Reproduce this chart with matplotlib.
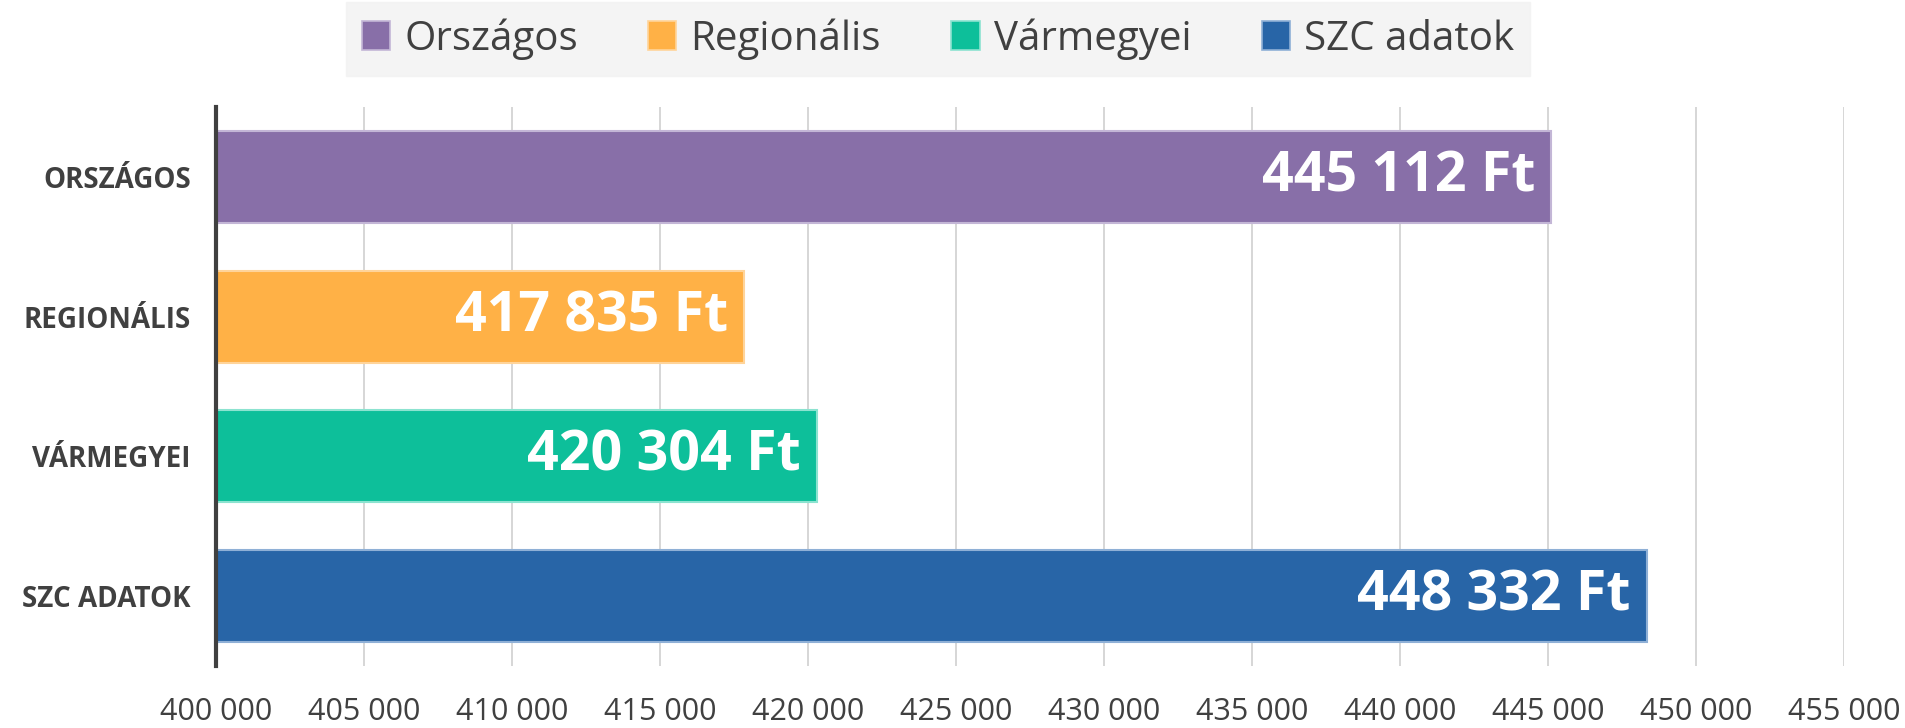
import matplotlib
matplotlib.use("Agg")
import matplotlib.pyplot as plt
from matplotlib.patches import Patch

categories = ["ORSZÁGOS", "REGIONÁLIS", "VÁRMEGYEI", "SZC ADATOK"]
legend_labels = ["Országos", "Regionális", "Vármegyei", "SZC adatok"]
values = [445112, 417835, 420304, 448332]
colors = ["#886fa8", "#ffb146", "#0dbf9a", "#2865a7"]
edge_colors = ["#c3b6d6", "#ffd49a", "#8ce3d0", "#8fb0d6"]
xticks = list(range(400000, 455001, 5000))

def fmt(v):
    return f"{v:,}".replace(",", " ")

W, H = 1905, 728
fig = plt.figure(figsize=(W / 100, H / 100), dpi=100)
ax = fig.add_axes([216 / W, 1 - 666 / H, (1844 - 216) / W, (666 - 107) / H])

ypos = list(range(len(categories)))
bars = ax.barh(ypos, [v - 400000 for v in values], left=400000, height=0.66,
               color=colors, edgecolor=edge_colors, linewidth=1.5, zorder=3)
for y, v in zip(ypos, values):
    ax.text(v - 550, y, fmt(v) + " Ft", ha="right", va="center", color="white",
            fontsize=40, fontweight="bold", family="Open Sans", zorder=4)

ax.set_xlim(400000, 455000)
ax.set_ylim(3.5, -0.5)
ax.set_xticks(xticks)
ax.set_xticklabels([fmt(t) for t in xticks], fontsize=22, color="#404040", family="Open Sans")
ax.set_yticks(ypos)
ax.set_yticklabels(categories, fontsize=20, fontweight="bold", color="#404040", family="Open Sans")
ax.tick_params(axis="x", length=0, pad=22)
ax.tick_params(axis="y", length=0, pad=18)
ax.grid(axis="x", color="#d0d0d0", linewidth=1.2, zorder=0)
for s in ["top", "right", "bottom"]:
    ax.spines[s].set_visible(False)
ax.spines["left"].set_color("#404040")
ax.spines["left"].set_linewidth(3)
ax.spines["left"].set_zorder(5)

handles = [Patch(facecolor=c, edgecolor=e, linewidth=1.2) for c, e in zip(colors, edge_colors)]
leg = fig.legend(handles, legend_labels, loc="upper center", bbox_to_anchor=(938 / W, 1 - 2 / H),
                 ncol=4, frameon=True, handlelength=0.7, handleheight=0.7,
                 handletextpad=0.35, columnspacing=1.75, borderpad=0.4, borderaxespad=0,
                 fancybox=False, prop={"family": "Open Sans", "size": 29})
leg.get_frame().set_facecolor("#f2f2f2")
leg.get_frame().set_edgecolor("#f2f2f2")
for t in leg.get_texts():
    t.set_color("#404040")

fig.savefig("out.png", dpi=100)
